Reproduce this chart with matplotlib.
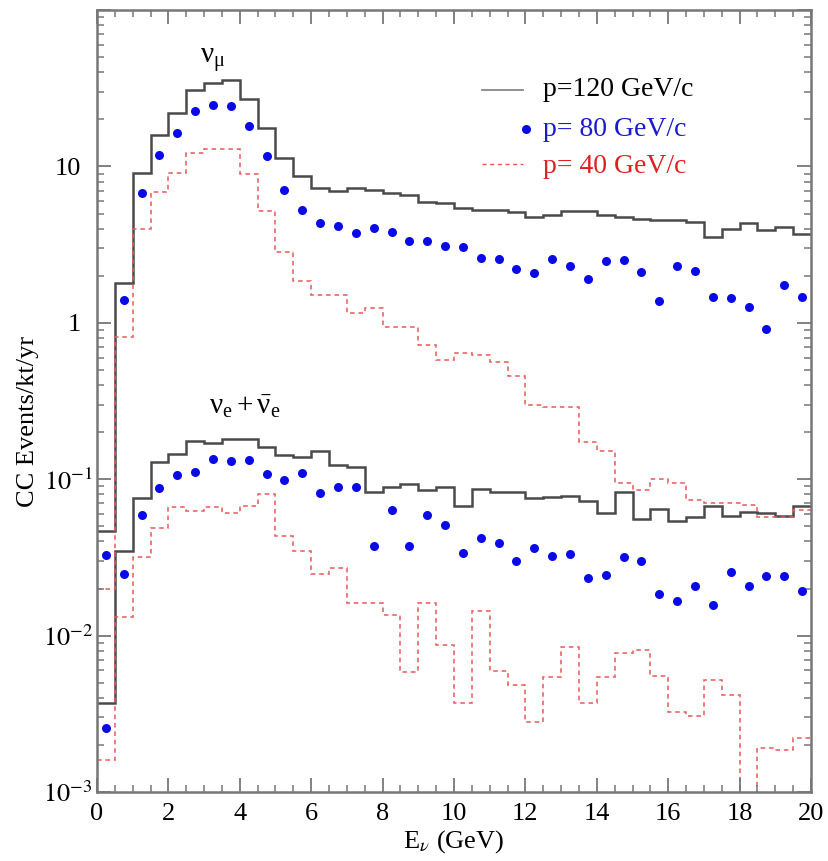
import numpy as np
import matplotlib
matplotlib.use("Agg")
import matplotlib.pyplot as plt
from matplotlib.ticker import FixedLocator, LogLocator, MultipleLocator, NullFormatter
from matplotlib.transforms import ScaledTranslation

plt.rcParams["font.family"] = ["Liberation Serif", "DejaVu Serif"]
plt.rcParams["mathtext.fontset"] = "stix"

# 0.5 GeV bins from 0 to 20 GeV
edges = np.arange(0, 20.01, 0.5)
centers = edges[:-1] + 0.25

# nu_mu, p = 120 GeV/c (solid histogram)
numu_120 = [0.047, 1.8, 9.1, 15.9, 22, 31, 34, 35.6, 27, 17.6,
            11.3, 8.7, 7.3, 7.0, 7.3, 7.1, 6.8, 6.6, 5.9, 5.8,
            5.4, 5.26, 5.26, 5.13, 4.76, 4.88, 5.2, 5.2, 4.88, 4.72,
            4.61, 4.54, 4.54, 4.43, 3.52, 3.96, 4.37, 3.92, 4.11, 3.70]
# nu_mu, p = 80 GeV/c (dots)
numu_80 = [0.0328, 1.4, 6.8, 11.9, 16.4, 22.6, 24.9, 24.3, 18.2, 11.7,
           7.06, 5.3, 4.33, 4.18, 3.77, 4.02, 3.79, 3.35, 3.35, 3.1,
           3.04, 2.58, 2.55, 2.2, 2.09, 2.56, 2.32, 1.9, 2.48, 2.52,
           2.12, 1.38, 2.32, 2.15, 1.46, 1.44, 1.27, 0.92, 1.75, 1.46]
# nu_mu, p = 40 GeV/c (dashed histogram)
numu_40 = [0.02, 0.81, 3.98, 6.9, 9.1, 12.2, 12.9, 12.9, 9.0, 5.2,
           2.85, 1.85, 1.5, 1.5, 1.16, 1.24, 0.94, 0.94, 0.72, 0.58,
           0.64, 0.62, 0.56, 0.46, 0.30, 0.29, 0.29, 0.174, 0.151, 0.094,
           0.085, 0.1, 0.095, 0.074, 0.071, 0.071, 0.068, 0.057, 0.057, 0.064]

# nu_e + anti-nu_e
nue_120 = [0.0037, 0.035, 0.0755, 0.128, 0.146, 0.175, 0.171, 0.18, 0.18, 0.161,
           0.143, 0.139, 0.152, 0.123, 0.119, 0.083, 0.089, 0.093, 0.085, 0.0895,
           0.067, 0.086, 0.083, 0.083, 0.0755, 0.077, 0.078, 0.0725, 0.0605, 0.083,
           0.056, 0.065, 0.054, 0.057, 0.067, 0.058, 0.0615, 0.0605, 0.0585, 0.067]
nue_80 = [0.00257, 0.0248, 0.059, 0.0875, 0.107, 0.111, 0.135, 0.13, 0.132, 0.108,
          0.099, 0.11, 0.082, 0.089, 0.0895, 0.0374, 0.0635, 0.0376, 0.059, 0.051,
          0.0336, 0.042, 0.039, 0.030, 0.0365, 0.0323, 0.0333, 0.0234, 0.0244, 0.0319,
          0.0298, 0.0184, 0.0167, 0.0207, 0.0157, 0.0256, 0.0207, 0.024, 0.0239, 0.0194]
nue_40 = [0.0016, 0.0131, 0.032, 0.049, 0.066, 0.0625, 0.066, 0.0605, 0.067, 0.080,
          0.0434, 0.035, 0.0247, 0.027, 0.0162, 0.0162, 0.0136, 0.00588, 0.0162, 0.0087,
          0.0037, 0.0144, 0.0059, 0.00483, 0.0028, 0.00546, 0.0084, 0.0037, 0.00546, 0.0078,
          0.0081, 0.0055, 0.00326, 0.00306, 0.0052, 0.0042, 1e-4, 0.00192, 0.00187, 0.0022]

ytick_vals = [1e-3, 1e-2, 1e-1, 1, 10, 100]
ytick_text = ["$10^{-3}$", "$10^{-2}$", "$10^{-1}$", "1", "10", ""]

C120, C80, C40 = "#4a4a4a", "#0a0ae6", "#e8585a"

fig = plt.figure(figsize=(8.29, 8.61), dpi=100)
ax = fig.add_axes([0.117, 0.0801, 0.8613, 0.9082])

for vals in (numu_120, nue_120):
    ax.stairs(vals, edges, color=C120, lw=1.8, baseline=None)
for vals in (numu_40, nue_40):
    ax.stairs(vals, edges, color=C40, lw=1.1, ls=(0, (3, 2.5)), baseline=None)
for vals in (numu_80, nue_80):
    ax.plot(centers, vals, "o", color=C80, ms=6.5, mec="none")

ax.set_yscale("log")
ax.set_xlim(0, 20)
ax.set_ylim(1e-3, 100)

ax.xaxis.set_major_locator(MultipleLocator(2))
ax.xaxis.set_minor_locator(MultipleLocator(0.5))
ax.yaxis.set_major_locator(FixedLocator(ytick_vals))
ax.yaxis.set_minor_locator(LogLocator(base=10, subs=np.arange(2, 10)))
ax.yaxis.set_minor_formatter(NullFormatter())
ax.set_yticklabels(ytick_text)
ax.tick_params(which="both", direction="in", top=True, right=True,
               color="#777777", labelsize=19)
ax.tick_params(axis="y", pad=3)
ax.tick_params(axis="x", pad=8)
ax.tick_params(which="major", length=10, width=1.3)
ax.tick_params(which="minor", length=5, width=1.1)
for s in ax.spines.values():
    s.set_color("#777777")
    s.set_linewidth(1.8)

# plain labels ("1", "10") sit further from the axis than the powers of ten
shift = ScaledTranslation(-12 / 100, 0, fig.dpi_scale_trans)
for lab in ax.get_yticklabels():
    if "^" not in lab.get_text():
        lab.set_transform(lab.get_transform() + shift)

ax.set_xlabel(r"E$_\nu$ (GeV)", fontsize=19, labelpad=2)
fig.text(0.034, 0.51, "CC Events/kt/yr", rotation=90, fontsize=19,
         ha="center", va="center")

ax.text(3.25, 48, r"$\mathregular{ν_μ}$", fontsize=21, ha="center", va="center")
ax.text(4.15, 0.29, r"$\mathregular{ν_e + \bar{ν}_e}$", fontsize=21,
        ha="center", va="center")

# legend drawn by hand in data space
ax.plot([10.78, 11.93], [31, 31], color="#888888", lw=1.3)
ax.plot([12.02], [17.3], "o", color=C80, ms=6.5, mec="none")
ax.plot([10.78, 11.93], [10.4, 10.4], color=C40, lw=1.0, ls=(0, (3, 2.5)))
ax.text(12.5, 31, "p=120 GeV/c", fontsize=20, va="center", color="black")
ax.text(12.5, 17.3, "p= 80 GeV/c", fontsize=20, va="center", color="#1a1ad0")
ax.text(12.5, 10.0, "p= 40 GeV/c", fontsize=20, va="center", color="#dd2222")

fig.savefig("out.png", dpi=100)
